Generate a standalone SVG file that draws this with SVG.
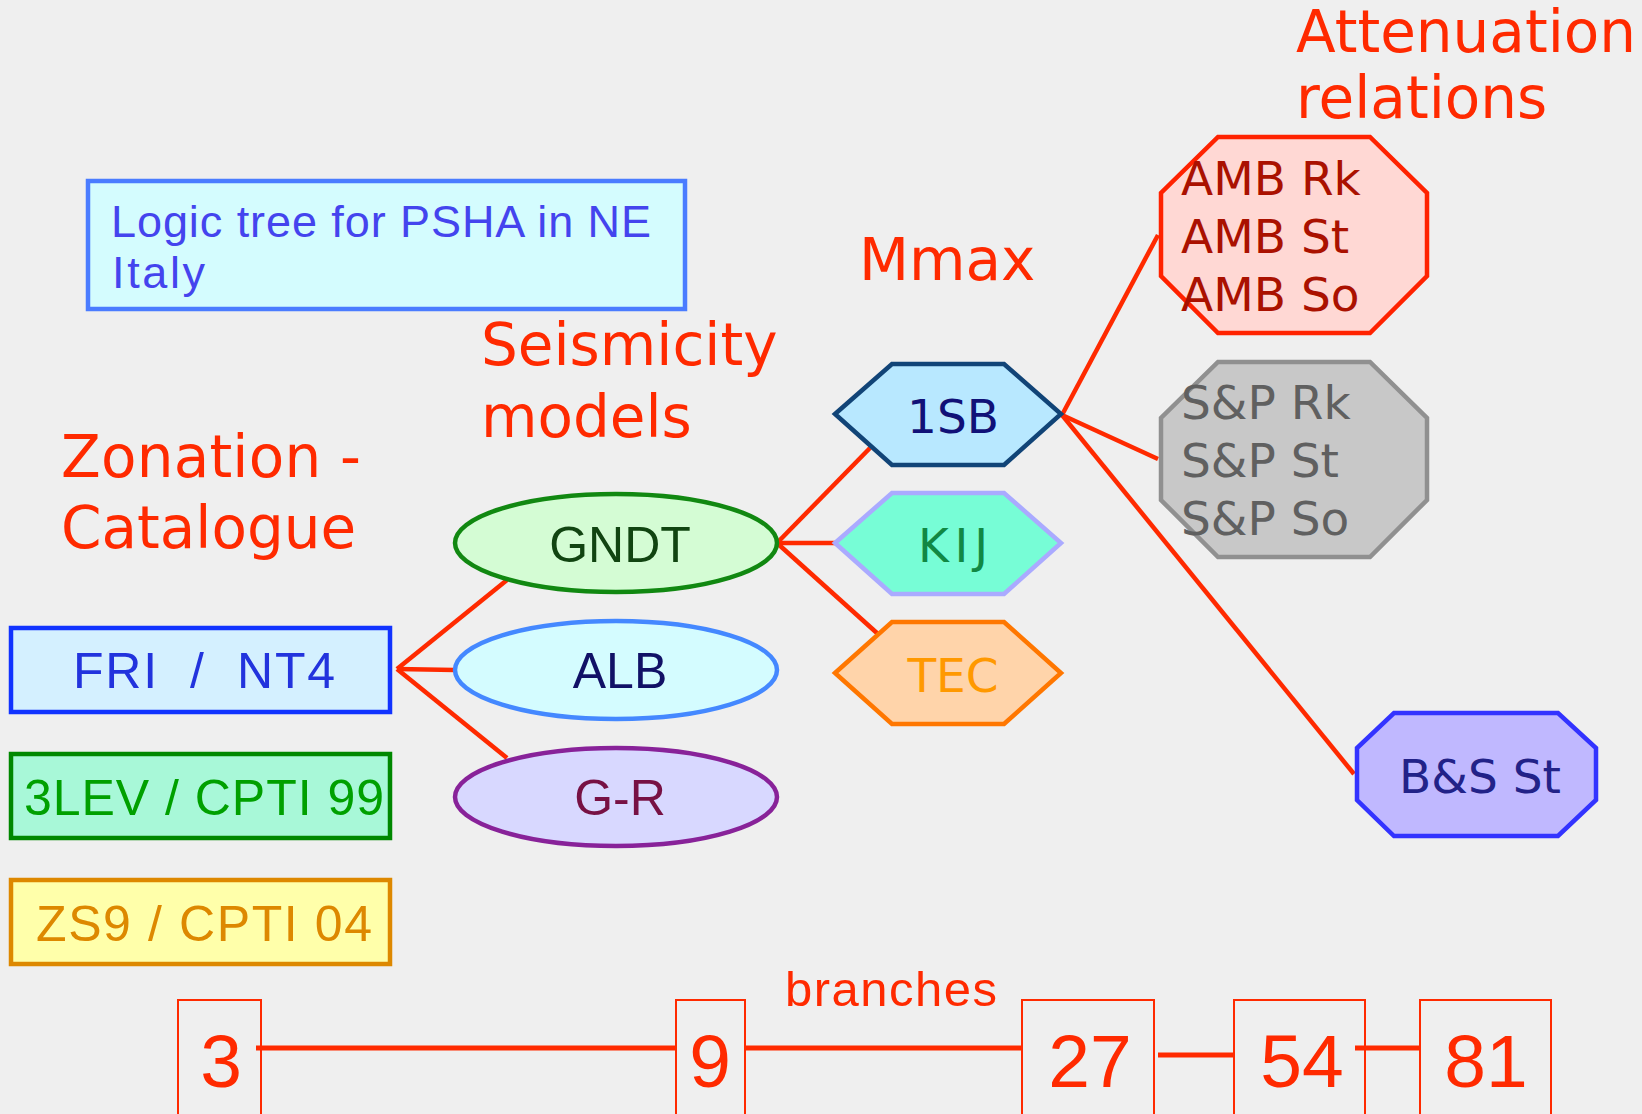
<svg xmlns="http://www.w3.org/2000/svg" width="1642" height="1114" viewBox="0 0 1642 1114">
<style>
.title{font-family:"DejaVu Sans",Verdana,sans-serif;font-size:58px;fill:#ff2a00}
.conn{stroke:#ff2a00;stroke-width:4.5;fill:none}
.lbl{font-family:"Liberation Sans",Arial,sans-serif;font-size:50px;text-anchor:middle}
.hex{font-family:"DejaVu Sans",Verdana,sans-serif;font-size:47px;text-anchor:middle}
.oct{font-family:"DejaVu Sans",Verdana,sans-serif;font-size:47px}
.num{font-family:"Liberation Sans",Arial,sans-serif;font-size:75px;fill:#ff2a00;text-anchor:middle}
.nbox{fill:none;stroke:#ff2a00;stroke-width:2}
.shape{stroke-width:4.5}
</style>
<rect x="0" y="0" width="1642" height="1114" fill="#efefef"/>

<g id="caption">
<rect x="88" y="181" width="597" height="128" fill="#d4fcfe" stroke="#4a7cff" stroke-width="4.5"/>
<text x="111" y="237" font-family="Liberation Sans,Arial,sans-serif" font-size="45" fill="#4444ee" textLength="540" lengthAdjust="spacing">Logic tree for PSHA in NE</text>
<text x="112" y="288" font-family="Liberation Sans,Arial,sans-serif" font-size="45" fill="#4444ee" textLength="93" lengthAdjust="spacing">Italy</text>
</g>

<g id="headings">
<text class="title" x="61" y="477" textLength="300" lengthAdjust="spacing">Zonation -</text>
<text class="title" x="61" y="548">Catalogue</text>
<text class="title" x="481" y="365">Seismicity</text>
<text class="title" x="481" y="437">models</text>
<text class="title" x="859" y="280">Mmax</text>
<text class="title" x="1296" y="52">Attenuation</text>
<text class="title" x="1296" y="118">relations</text>
</g>

<g id="connectors">
<line class="conn" x1="397" y1="669" x2="507" y2="580"/>
<line class="conn" x1="397" y1="669" x2="455" y2="670"/>
<line class="conn" x1="397" y1="669" x2="507" y2="758"/>
<line class="conn" x1="777" y1="543" x2="870" y2="448"/>
<line class="conn" x1="777" y1="543" x2="835" y2="543"/>
<line class="conn" x1="777" y1="543" x2="878" y2="634"/>
<line class="conn" x1="1062" y1="415" x2="1158" y2="235"/>
<line class="conn" x1="1062" y1="415" x2="1158" y2="459"/>
<line class="conn" x1="1062" y1="415" x2="1354" y2="774"/>
<line x1="256" y1="1048" x2="676" y2="1048" stroke="#ff2a00" stroke-width="5"/>
<line x1="745" y1="1048" x2="1022" y2="1048" stroke="#ff2a00" stroke-width="5"/>
<line x1="1158" y1="1055" x2="1234" y2="1055" stroke="#ff2a00" stroke-width="5"/>
<line x1="1355" y1="1048" x2="1420" y2="1048" stroke="#ff2a00" stroke-width="5"/>
</g>

<g id="fri">
<rect class="shape" x="11" y="628" width="379" height="84" fill="#d4f0ff" stroke="#1133ff"/>
<text class="lbl" x="204" y="688" fill="#2233dd" xml:space="preserve" textLength="262" lengthAdjust="spacing">FRI  /  NT4</text>
</g>
<g id="lev3">
<rect class="shape" x="11" y="754" width="379" height="84" fill="#a8f8d8" stroke="#008800"/>
<text class="lbl" x="204" y="815" fill="#00a000" textLength="360" lengthAdjust="spacing">3LEV / CPTI 99</text>
</g>
<g id="zs9">
<rect class="shape" x="11" y="880" width="379" height="84" fill="#ffffaa" stroke="#dd8800"/>
<text class="lbl" x="204" y="941" fill="#dd8800" textLength="336" lengthAdjust="spacing">ZS9 / CPTI 04</text>
</g>

<g id="gndt">
<ellipse class="shape" cx="616" cy="543" rx="161" ry="49" fill="#d4fcd4" stroke="#118811"/>
<text class="lbl" x="620" y="562" fill="#114411">GNDT</text>
</g>
<g id="alb">
<ellipse class="shape" cx="616" cy="670" rx="161" ry="49" fill="#d4fcff" stroke="#4488ff"/>
<text class="lbl" x="620" y="688" fill="#111166">ALB</text>
</g>
<g id="gr">
<ellipse class="shape" cx="616" cy="797" rx="161" ry="49" fill="#d8d8ff" stroke="#882299"/>
<text class="lbl" x="620" y="815" fill="#771144">G-R</text>
</g>

<g id="sb1">
<polygon class="shape" points="835,414 892,364 1004,364 1061,414 1004,465 892,465" fill="#b8e8ff" stroke="#114477"/>
<text class="hex" x="953" y="433" fill="#111177">1SB</text>
</g>
<g id="kij">
<polygon class="shape" points="835,543 892,493 1004,493 1061,543 1004,594 892,594" fill="#77fdd6" stroke="#aaaaff"/>
<text class="hex" x="953" y="562" fill="#118844" textLength="70" lengthAdjust="spacing">KIJ</text>
</g>
<g id="tec">
<polygon class="shape" points="835,673 892,622 1004,622 1061,673 1004,724 892,724" fill="#ffd4aa" stroke="#ff7700"/>
<text class="hex" x="953" y="692" fill="#ff9900">TEC</text>
</g>

<g id="amb">
<polygon class="shape" points="1218,137 1370,137 1427,193 1427,276 1370,333 1218,333 1161,276 1161,193" fill="#ffd8d4" stroke="#ff2200"/>
<text class="oct" x="1181" y="195" fill="#aa1100">AMB Rk</text>
<text class="oct" x="1181" y="253" fill="#aa1100">AMB St</text>
<text class="oct" x="1181" y="311" fill="#aa1100">AMB So</text>
</g>
<g id="sp">
<polygon class="shape" points="1218,362 1370,362 1427,418 1427,500 1370,557 1218,557 1161,500 1161,418" fill="#c8c8c8" stroke="#909090"/>
<text class="oct" x="1181" y="419" fill="#606060">S&amp;P Rk</text>
<text class="oct" x="1181" y="477" fill="#606060">S&amp;P St</text>
<text class="oct" x="1181" y="535" fill="#606060">S&amp;P So</text>
</g>
<g id="bs">
<polygon class="shape" points="1394,713 1558,713 1596,748 1596,800 1558,836 1394,836 1357,800 1357,748" fill="#c0b8ff" stroke="#3333ff"/>
<text class="hex" x="1480" y="793" fill="#222288">B&amp;S St</text>
</g>

<g id="branches">
<text x="891" y="1006" font-family="Liberation Sans,Arial,sans-serif" font-size="49" fill="#ff2a00" text-anchor="middle" textLength="212" lengthAdjust="spacing">branches</text>
<g id="n3"><rect class="nbox" x="178" y="1000" width="83" height="120"/><text class="num" x="221" y="1087">3</text></g>
<g id="n9"><rect class="nbox" x="676" y="1000" width="69" height="120"/><text class="num" x="710" y="1087">9</text></g>
<g id="n27"><rect class="nbox" x="1022" y="1000" width="132" height="120"/><text class="num" x="1090" y="1087">27</text></g>
<g id="n54"><rect class="nbox" x="1234" y="1000" width="131" height="120"/><text class="num" x="1302" y="1087">54</text></g>
<g id="n81"><rect class="nbox" x="1420" y="1000" width="131" height="120"/><text class="num" x="1486" y="1087">81</text></g>
</g>
</svg>
